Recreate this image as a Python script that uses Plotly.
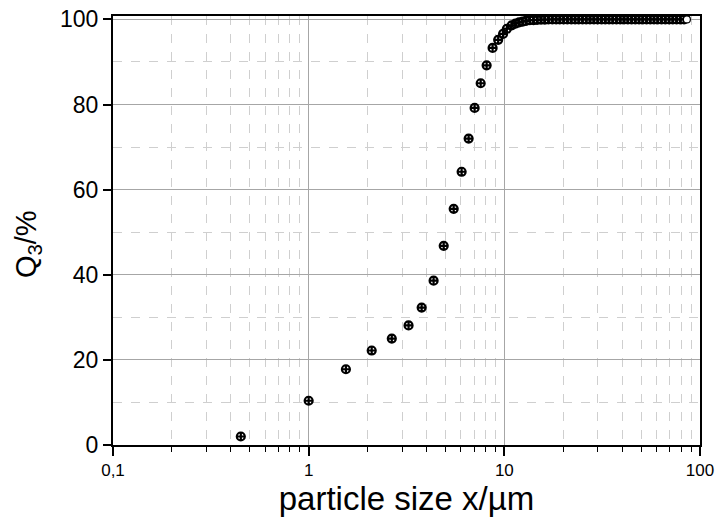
import plotly.graph_objects as go

# particle size x (µm) and cumulative volume distribution Q3 (%)
x_um = [0.45, 1.0, 1.55, 2.1, 2.66, 3.24, 3.78, 4.35, 4.9, 5.51, 6.05, 6.57, 7.05,
        7.57, 8.12, 8.71, 9.3, 9.85,
        10.3, 10.9, 11.4, 11.9, 12.4, 12.9, 13.5, 14.1, 14.7, 15.4, 16.1, 16.8,
        17.6, 18.4, 19.2, 20.1, 21.0, 22.0, 23.0, 24.0, 25.1, 26.2, 27.4, 28.7,
        30.0, 31.4, 32.8, 34.3, 35.8, 37.4, 39.1, 40.9, 42.8, 44.7, 46.7, 48.8,
        51.0, 53.3, 55.7, 58.2, 60.8, 63.6, 66.5, 69.5, 72.6, 75.9, 79.3, 82.9, 85.7]
q3_pct = [2.0, 10.4, 17.8, 22.2, 25.0, 28.1, 32.3, 38.6, 46.8, 55.5, 64.2, 72.0, 79.2,
          85.0, 89.2, 93.3, 95.2, 96.6,
          97.8, 98.6, 99.0, 99.3, 99.5, 99.65, 99.8, 99.85, 99.9, 99.95, 99.97, 99.98,
          99.99, 100.0, 100.0, 100.0, 100.0, 100.0, 100.0, 100.0, 100.0, 100.0, 100.0, 100.0,
          100.0, 100.0, 100.0, 100.0, 100.0, 100.0, 100.0, 100.0, 100.0, 100.0, 100.0, 100.0,
          100.0, 100.0, 100.0, 100.0, 100.0, 100.0, 100.0, 100.0, 100.0, 100.0, 100.0, 100.0, 100.0]

x_tickvals = [0.1, 1, 10, 100]
x_ticktext = ["0,1", "1", "10", "100"]
x_minor_vals = [0.2, 0.3, 0.4, 0.5, 0.6, 0.7, 0.8, 0.9,
                2, 3, 4, 5, 6, 7, 8, 9,
                20, 30, 40, 50, 60, 70, 80, 90]
y_tickvals = [0, 20, 40, 60, 80, 100]
y_title = "Q<sub>3</sub>/%"
x_title = "particle size x/µm"

FONT = "Liberation Sans, Arial, sans-serif"

fig = go.Figure()
fig.add_trace(go.Scatter(
    x=x_um[:-1], y=q3_pct[:-1], mode="markers",
    marker=dict(symbol="circle-cross-open", size=8, color="black",
                line=dict(color="black", width=2.2)),
    cliponaxis=False, showlegend=False))
fig.add_trace(go.Scatter(
    x=x_um[-1:], y=q3_pct[-1:], mode="markers",
    marker=dict(symbol="circle", size=7, color="white",
                line=dict(color="black", width=1.2)),
    cliponaxis=False, showlegend=False))

fig.update_layout(
    width=715, height=528,
    margin=dict(l=113, r=15, t=16, b=83),
    paper_bgcolor="white", plot_bgcolor="white",
    font=dict(family=FONT, color="black"),
)
fig.update_xaxes(
    type="log", range=[-1, 2], automargin=False, ticklabeloverflow="allow",
    tickvals=x_tickvals, ticktext=x_ticktext,
    ticks="outside", ticklen=9, tickwidth=1.5, tickcolor="black",
    tickfont=dict(size=17),
    showline=True, linecolor="black", linewidth=2, mirror=True,
    showgrid=True, gridcolor="#a6a6a6", gridwidth=1.2,
    zeroline=False,
    minor=dict(tickvals=x_minor_vals, ticks="outside", ticklen=5, tickwidth=1,
               tickcolor="black", showgrid=True, gridcolor="#cfcfcf",
               griddash="dash", gridwidth=1),
    title=dict(text=x_title, font=dict(size=33), standoff=2),
)
fig.update_yaxes(
    range=[0, 100.8], automargin=False, ticklabeloverflow="allow",
    tickvals=y_tickvals,
    ticks="outside", ticklen=8, tickwidth=1.5, tickcolor="black",
    tickfont=dict(size=23),
    showline=True, linecolor="black", linewidth=2, mirror=True,
    showgrid=True, gridcolor="#a6a6a6", gridwidth=1.2,
    zeroline=False,
    minor=dict(dtick=10, ticks="", showgrid=True, gridcolor="#cfcfcf",
               griddash="dash", gridwidth=1),
)
# y-axis title as a rotated annotation for exact placement
fig.add_annotation(
    text=y_title, textangle=-90, showarrow=False,
    xref="paper", yref="paper", x=-0.145, y=0.468,
    xanchor="center", yanchor="middle",
    font=dict(size=29, family=FONT, color="black"),
)

# remove the default 8px body margin so the figure sits at the window's top-left
fig.write_html("out.html", config={"displayModeBar": False},
               post_script="document.body.style.margin='0';")
